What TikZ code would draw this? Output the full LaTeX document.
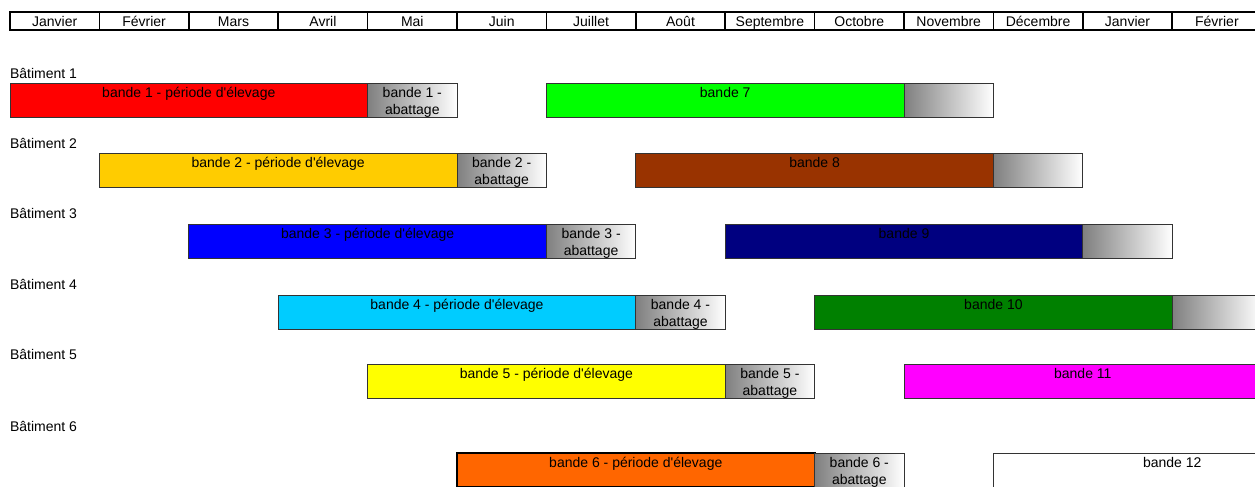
\documentclass[tikz,border=0pt]{standalone}
\usepackage{fontspec}
\setmainfont{Liberation Sans}
\usetikzlibrary{positioning}

\definecolor{rouge}{RGB}{255,0,0}
\definecolor{jauneor}{RGB}{255,204,0}
\definecolor{bleu}{RGB}{0,0,255}
\definecolor{cyanclair}{RGB}{0,204,255}
\definecolor{jaune}{RGB}{255,255,0}
\definecolor{orange}{RGB}{255,102,0}
\definecolor{vertvif}{RGB}{0,255,0}
\definecolor{brun}{RGB}{153,51,0}
\definecolor{marine}{RGB}{0,0,128}
\definecolor{vert}{RGB}{0,128,0}
\definecolor{magenta}{RGB}{255,0,255}
\newcommand{\apos}{\textquotesingle}

\begin{document}
\begin{tikzpicture}[x=0.75pt,y=-0.75pt,font=\fontsize{10.5}{12.5}\selectfont,
inner sep=0pt,outer sep=0pt]
\tikzstyle{month}=[draw,line width=1.2pt,minimum width=67.05pt,minimum height=13.5pt,text height=10.5pt,text depth=3pt,anchor=north west]
\tikzstyle{bar}=[draw=black!80,line width=0.75pt,minimum height=25.5pt,text height=10.5pt,text depth=15pt,anchor=north west]
\tikzstyle{elevage}=[bar,minimum width=268.2pt]
\tikzstyle{abattage}=[draw=black!80,line width=0.75pt,minimum width=67.05pt,minimum height=25.5pt,text height=23.7pt,text depth=1.8pt,font=\fontsize{10.5}{13}\selectfont,left color=gray,right color=white,align=center]
\tikzstyle{batiment}=[anchor=base west]

\clip (0,0) rectangle (1255,486);

% en-tete des mois
\foreach \m [count=\i] in {Janvier,Février,Mars,Avril,Mai,Juin,Juillet,Août,Septembre,Octobre,Novembre,Décembre,Janvier,Février}
  \node[month] (m\i) at ({10+(\i-1)*89.4},12) {\m};

% batiment 1
\node[batiment] (t1) at (10,78) {Bâtiment 1};
\node[elevage,fill=rouge] (e1) at (10,83) {bande 1 - période d\apos élevage};
\node[abattage,right=0pt of e1] (a1) {bande 1 -\\abattage};
\node[elevage,fill=vertvif] (e7) at (546.4,83) {bande 7};
\node[abattage,right=0pt of e7] (a7) {};

% batiment 2
\node[batiment] (t2) at (10,148) {Bâtiment 2};
\node[elevage,fill=jauneor] (e2) at (99.4,153) {bande 2 - période d\apos élevage};
\node[abattage,right=0pt of e2] (a2) {bande 2 -\\abattage};
\node[elevage,fill=brun] (e8) at (635.8,153) {bande 8};
\node[abattage,right=0pt of e8] (a8) {};

% batiment 3
\node[batiment] (t3) at (10,218) {Bâtiment 3};
\node[elevage,fill=bleu] (e3) at (188.8,224) {bande 3 - période d\apos élevage};
\node[abattage,right=0pt of e3] (a3) {bande 3 -\\abattage};
\node[elevage,fill=marine] (e9) at (725.2,224) {bande 9};
\node[abattage,right=0pt of e9] (a9) {};

% batiment 4
\node[batiment] (t4) at (10,289) {Bâtiment 4};
\node[elevage,fill=cyanclair] (e4) at (278.2,295) {bande 4 - période d\apos élevage};
\node[abattage,right=0pt of e4] (a4) {bande 4 -\\abattage};
\node[elevage,fill=vert] (e10) at (814.6,295) {bande 10};
\node[abattage,right=0pt of e10] (a10) {};

% batiment 5
\node[batiment] (t5) at (10,359) {Bâtiment 5};
\node[elevage,fill=jaune] (e5) at (367.6,364) {bande 5 - période d\apos élevage};
\node[abattage,right=0pt of e5] (a5) {bande 5 -\\abattage};
\node[elevage,fill=magenta] (e11) at (904,364) {bande 11};

% batiment 6
\node[batiment] (t6) at (10,431) {Bâtiment 6};
\node[elevage,fill=orange,draw=black,line width=1.5pt] (e6) at (457,453) {bande 6 - période d\apos élevage};
\node[abattage,right=0pt of e6] (a6) {bande 6 -\\abattage};
\node[elevage,fill=white] (e12) at (993.4,453) {bande 12};
\end{tikzpicture}
\end{document}
